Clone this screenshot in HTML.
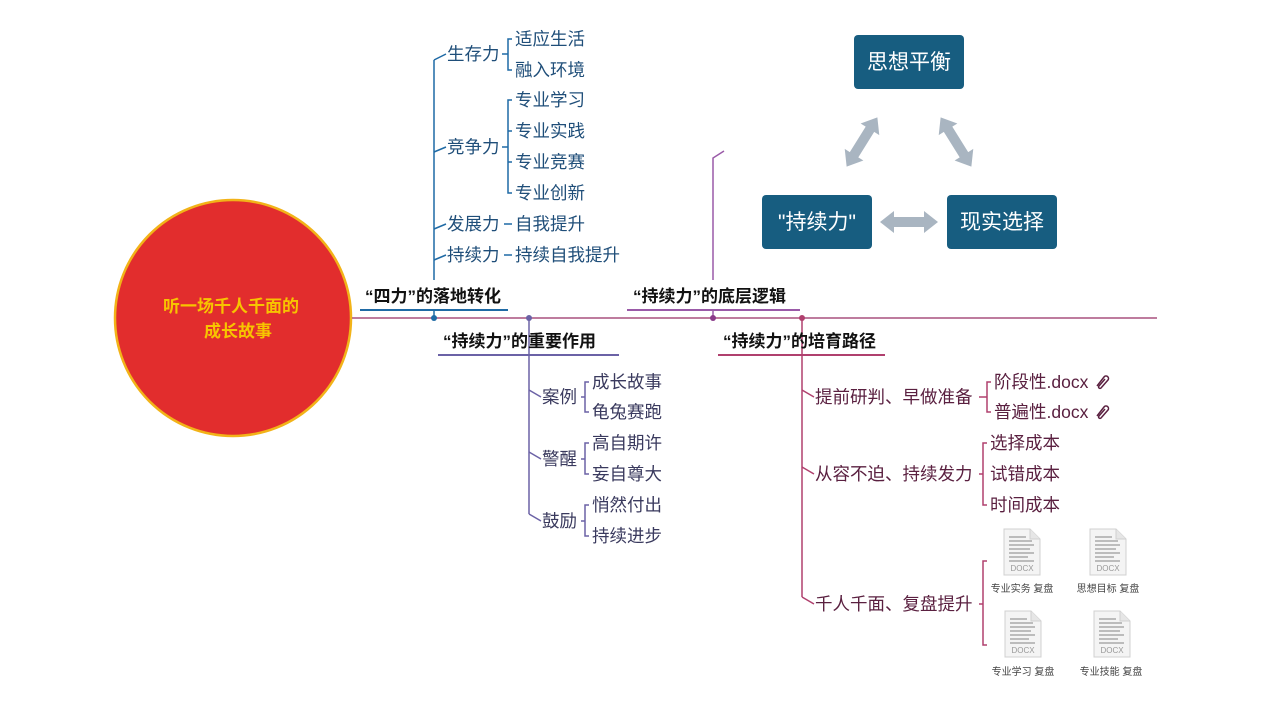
<!DOCTYPE html>
<html><head><meta charset="utf-8"><style>
body{margin:0;background:#fff;}
svg text{font-family:"Liberation Sans","Noto Sans CJK SC",sans-serif;}
</style></head><body>
<svg width="1270" height="714" viewBox="0 0 1270 714" xmlns="http://www.w3.org/2000/svg">
<defs>
<g id="doc">
<path d="M0,0 H26 L36,10 V46 H0 Z" fill="#f4f4f4" stroke="#d0d0d0"/>
<path d="M26,0 V10 H36" fill="#e6e6e6" stroke="#d0d0d0"/>
<g stroke="#9a9a9a" stroke-width="1.2">
<line x1="5" y1="8" x2="22" y2="8"/><line x1="5" y1="12" x2="28" y2="12"/><line x1="5" y1="16" x2="30" y2="16"/>
<line x1="5" y1="20" x2="26" y2="20"/><line x1="5" y1="24" x2="30" y2="24"/><line x1="5" y1="28" x2="24" y2="28"/><line x1="5" y1="32" x2="30" y2="32"/>
</g>
<text x="18" y="42" font-size="8" fill="#999" text-anchor="middle">DOCX</text>
</g>
<polygon id="arr" points="-29,0 -15,-11 -15,-5 15,-5 15,-11 29,0 15,11 15,5 -15,5 -15,11" fill="#a9b5c1"/>
<g id="clip" fill="none" stroke="#5a2040" stroke-width="1.5">
<path d="M3,12 L10,3 A2.5,2.5 0 0 1 14,6 L7,14 A1.3,1.3 0 0 1 5,12 L11,5"/>
</g>
</defs>
<!-- central circle -->
<circle cx="233" cy="318" r="118" fill="#e22d2d" stroke="#f2b318" stroke-width="2.5"/>
<text x="231" y="312" font-size="17" font-weight="bold" fill="#f7c400" text-anchor="middle">听一场千人千面的</text>
<text x="238" y="337" font-size="17" font-weight="bold" fill="#f7c400" text-anchor="middle">成长故事</text>
<!-- main line -->
<line x1="352" y1="318" x2="1157" y2="318" stroke="#a8507e" stroke-width="1.6"/>

<!-- topic 1 -->
<g fill="none" stroke="#1f6aa5" stroke-width="1.5">
<line x1="360" y1="310" x2="508" y2="310" stroke-width="2"/>
<line x1="434" y1="310" x2="434" y2="318"/>
<line x1="434" y1="280" x2="434" y2="60"/>
<path d="M434,60 L446,54 M434,152 L446,147 M434,229 L446,224 M434,260 L446,255"/>
<path d="M502,54 H508 M512,39 H508 V70 H512 M502,147 H508 M512,100 H508 V193 H512 M508,131 H512 M508,162 H512 M504,224 H512 M504,255 H512"/>
</g>
<circle cx="434" cy="318" r="3" fill="#1f6aa5"/>
<text x="365" y="302" font-size="17" font-weight="bold" fill="#111">“四力”的落地转化</text>
<g font-size="17.5" fill="#1f4e79">
<text x="447" y="60">生存力</text><text x="447" y="153">竞争力</text><text x="447" y="230">发展力</text><text x="447" y="261">持续力</text>
<text x="515" y="45">适应生活</text><text x="515" y="76">融入环境</text>
<text x="515" y="106">专业学习</text><text x="515" y="137">专业实践</text><text x="515" y="168">专业竞赛</text><text x="515" y="199">专业创新</text>
<text x="515" y="230">自我提升</text><text x="515" y="261">持续自我提升</text>
</g>

<!-- topic 2 -->
<g fill="none" stroke="#6b62a6" stroke-width="1.5">
<line x1="438" y1="355" x2="619" y2="355" stroke-width="2"/>
<line x1="529" y1="318" x2="529" y2="355"/>
<line x1="529" y1="355" x2="529" y2="514"/>
<path d="M529,390 L541,397 M529,452 L541,459 M529,514 L541,521"/>
<path d="M581,397 H585 M589,382 H585 V412 H589 M581,459 H585 M589,443 H585 V474 H589 M581,521 H585 M589,505 H585 V536 H589"/>
</g>
<circle cx="529" cy="318" r="3" fill="#6b62a6"/>
<text x="443" y="347" font-size="17" font-weight="bold" fill="#111">“持续力”的重要作用</text>
<g font-size="17.5" fill="#3a3a5e">
<text x="542" y="403">案例</text><text x="542" y="465">警醒</text><text x="542" y="527">鼓励</text>
<text x="592" y="388">成长故事</text><text x="592" y="418">龟兔赛跑</text><text x="592" y="449">高自期许</text><text x="592" y="480">妄自尊大</text><text x="592" y="511">悄然付出</text><text x="592" y="542">持续进步</text>
</g>

<!-- topic 3 -->
<g fill="none" stroke="#9a5aa8" stroke-width="1.5">
<line x1="627" y1="310" x2="800" y2="310" stroke-width="2"/>
<line x1="713" y1="310" x2="713" y2="318"/>
<path d="M713,280 V158 L724,151"/>
</g>
<circle cx="713" cy="318" r="3" fill="#8a3a8a"/>
<text x="633" y="302" font-size="17" font-weight="bold" fill="#111">“持续力”的底层逻辑</text>

<!-- triangle -->
<use href="#arr" transform="translate(862,142) rotate(-58)"/>
<use href="#arr" transform="translate(956,142) rotate(58)"/>
<use href="#arr" transform="translate(909,222)"/>
<rect x="854" y="35" width="110" height="54" rx="4" fill="#175d80"/>
<rect x="762" y="195" width="110" height="54" rx="4" fill="#175d80"/>
<rect x="947" y="195" width="110" height="54" rx="4" fill="#175d80"/>
<g font-size="21" fill="#fff" text-anchor="middle">
<text x="909" y="69">思想平衡</text><text x="817" y="229">"持续力"</text><text x="1002" y="229">现实选择</text>
</g>

<!-- topic 4 -->
<g fill="none" stroke="#b0406e" stroke-width="1.5">
<line x1="718" y1="355" x2="885" y2="355" stroke-width="2"/>
<line x1="802" y1="318" x2="802" y2="355"/>
<line x1="802" y1="355" x2="802" y2="597"/>
<path d="M802,390 L814,397 M802,467 L814,474 M802,597 L814,604"/>
<path d="M979,397 H987 M991,382 H987 V412 H991 M979,474 H983 M987,443 H983 V505 H987 M979,604 H983 M987,561 H983 V645 H987"/>
</g>
<circle cx="802" cy="318" r="3" fill="#b0406e"/>
<text x="723" y="347" font-size="17" font-weight="bold" fill="#111">“持续力”的培育路径</text>
<g font-size="17.5" fill="#5a2040">
<text x="815" y="403">提前研判、早做准备</text><text x="815" y="480">从容不迫、持续发力</text><text x="815" y="610">千人千面、复盘提升</text>
<text x="994" y="388">阶段性.docx</text><text x="994" y="418">普遍性.docx</text>
<text x="990" y="449">选择成本</text><text x="990" y="480">试错成本</text><text x="990" y="511">时间成本</text>
</g>
<use href="#clip" x="1094" y="374"/><use href="#clip" x="1094" y="404"/>
<use href="#doc" x="1004" y="529"/><use href="#doc" x="1090" y="529"/>
<use href="#doc" x="1005" y="611"/><use href="#doc" x="1094" y="611"/>
<g font-size="10" fill="#444" text-anchor="middle">
<text x="1022" y="592">专业实务 复盘</text><text x="1108" y="592">思想目标 复盘</text>
<text x="1023" y="675">专业学习 复盘</text><text x="1111" y="675">专业技能 复盘</text>
</g>
</svg>
</body></html>
